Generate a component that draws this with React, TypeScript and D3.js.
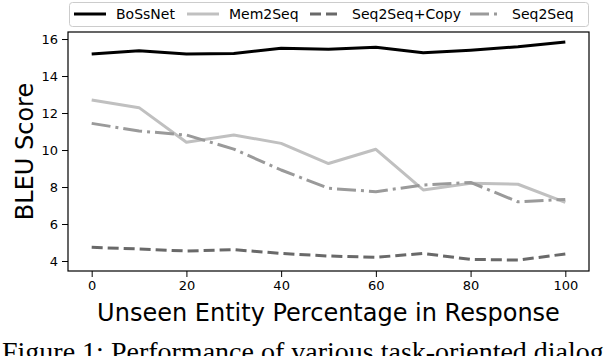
import React, { useEffect, useRef } from 'react';
import { select, scaleLinear, line, axisLeft, axisBottom } from 'd3';

// unseen entity percentage
const percents = [0, 10, 20, 30, 40, 50, 60, 70, 80, 90, 100];
const bossnet = [15.19, 15.37, 15.19, 15.22, 15.5, 15.45, 15.55, 15.26, 15.4, 15.58, 15.84];
const mem2seq = [12.7, 12.29, 10.42, 10.81, 10.36, 9.27, 10.04, 7.84, 8.2, 8.15, 7.17];
const seq2seqCopy = [4.74, 4.65, 4.54, 4.61, 4.41, 4.27, 4.2, 4.41, 4.09, 4.05, 4.38];
const seq2seq = [11.44, 11.03, 10.81, 10.05, 8.92, 7.93, 7.75, 8.11, 8.25, 7.2, 7.33];

const seriesNames = ['BoSsNet', 'Mem2Seq', 'Seq2Seq+Copy', 'Seq2Seq'];
const xTicks = [0, 20, 40, 60, 80, 100];
const yTicks = [4, 6, 8, 10, 12, 14, 16];

const styles = [
  { color: '#000000', dash: null },
  { color: '#c0c0c0', dash: null },
  { color: '#696969', dash: '11,5' },
  { color: '#9a9a9a', dash: '19,5,3,5' },
];

const W = 606, H = 356;
const margin = { top: 32, right: 17, bottom: 85, left: 68 };
const legendX = [74, 187, 310, 470];

const renderChart = (svgEl) => {
  const svg = select(svgEl);
  svg.selectAll('*').remove();

  const x = scaleLinear().domain([-5, 105]).range([margin.left, W - margin.right]);
  const y = scaleLinear().domain([3.46, 16.38]).range([H - margin.bottom, margin.top]);

  const data = [bossnet, mem2seq, seq2seqCopy, seq2seq];
  const lineGen = line()
    .x((d, i) => x(percents[i]))
    .y(d => y(d));

  // lines
  data.forEach((vals, i) => {
    const p = svg.append('path')
      .datum(vals)
      .attr('d', lineGen)
      .attr('fill', 'none')
      .attr('stroke', styles[i].color)
      .attr('stroke-width', 3)
      .attr('stroke-linejoin', 'round');
    if (styles[i].dash) p.attr('stroke-dasharray', styles[i].dash);
  });

  // frame
  svg.append('rect')
    .attr('x', margin.left)
    .attr('y', margin.top)
    .attr('width', W - margin.left - margin.right)
    .attr('height', H - margin.top - margin.bottom)
    .attr('fill', 'none')
    .attr('stroke', '#000')
    .attr('stroke-width', 1.2);

  const xAxis = svg.append('g')
    .attr('transform', `translate(0,${H - margin.bottom})`)
    .call(axisBottom(x).tickValues(xTicks).tickSize(6).tickPadding(4).tickSizeOuter(0));
  const yAxis = svg.append('g')
    .attr('transform', `translate(${margin.left},0)`)
    .call(axisLeft(y).tickValues(yTicks).tickSize(6).tickPadding(4).tickSizeOuter(0));

  [xAxis, yAxis].forEach(g => {
    g.select('.domain').remove();
    g.selectAll('text')
      .attr('font-family', 'DejaVu Sans')
      .attr('font-size', 13)
      .attr('fill', '#000');
    g.selectAll('line').attr('stroke', '#000').attr('stroke-width', 1);
  });

  // axis labels
  svg.append('text')
    .attr('x', (margin.left + W - margin.right) / 2)
    .attr('y', 321)
    .attr('text-anchor', 'middle')
    .attr('font-family', 'DejaVu Sans')
    .attr('font-size', 24)
    .text('Unseen Entity Percentage in Response');

  svg.append('text')
    .attr('transform', `translate(33,${(margin.top + H - margin.bottom) / 2}) rotate(-90)`)
    .attr('text-anchor', 'middle')
    .attr('font-family', 'DejaVu Sans')
    .attr('font-size', 24)
    .text('BLEU Score');

  // legend
  svg.append('rect')
    .attr('x', 69.5)
    .attr('y', 2.5)
    .attr('width', 519)
    .attr('height', 24)
    .attr('rx', 3)
    .attr('fill', '#fff')
    .attr('stroke', '#cccccc')
    .attr('stroke-width', 1);

  seriesNames.forEach((name, i) => {
    const lx = legendX[i];
    const l = svg.append('line')
      .attr('x1', lx).attr('x2', lx + 32)
      .attr('y1', 14).attr('y2', 14)
      .attr('stroke', styles[i].color)
      .attr('stroke-width', 3);
    if (styles[i].dash) l.attr('stroke-dasharray', styles[i].dash);
    svg.append('text')
      .attr('x', lx + 42)
      .attr('y', 19)
      .attr('font-family', 'DejaVu Sans')
      .attr('font-size', 14)
      .text(name);
  });

  // caption (cut off at the bottom edge)
  svg.append('text')
    .attr('x', 2)
    .attr('y', 361)
    .attr('font-family', 'Liberation Serif')
    .attr('font-size', 28)
    .text('Figure 1: Performance of various task-oriented dialog');
};

export default function App() {
  const ref = useRef(null);
  useEffect(() => {
    renderChart(ref.current);
  }, []);
  return (
    <div style={{ position: 'absolute', left: 0, top: 0, width: W, height: H, background: '#fff' }}>
      <svg ref={ref} width={W} height={H} style={{ display: 'block' }} />
    </div>
  );
}
